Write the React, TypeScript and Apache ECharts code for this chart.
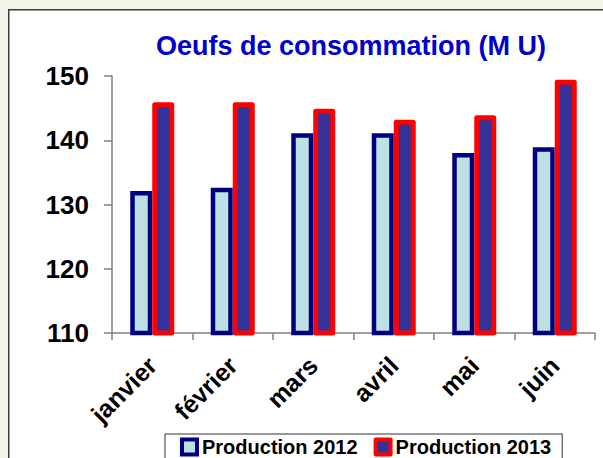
import React, { useEffect, useRef } from "react";
import * as echarts from "echarts";

const titleText = "Oeufs de consommation (M U)";
const categories = ["janvier", "février", "mars", "avril", "mai", "juin"];
const seriesNames = ["Production 2012", "Production 2013"];
const production2012 = [132.1, 132.6, 141.1, 141.1, 138.0, 138.9];
const production2013 = [145.9, 145.9, 144.9, 143.2, 143.9, 149.4];
const yMin = 110;
const yMax = 150;
const yInterval = 10;

export default function App() {
  const ref = useRef<HTMLDivElement>(null);

  useEffect(() => {
    if (!ref.current) return;
    const chart = echarts.init(ref.current, null, { renderer: "svg" });
    const font = "'Liberation Sans', Arial, sans-serif";
    const s2012 = { color: "#bde0e4", borderColor: "#000080", borderWidth: 4.5 };
    const s2013 = { color: "#333399", borderColor: "#ff0000", borderWidth: 5, borderJoin: "round" };
    chart.setOption({
      animation: false,
      backgroundColor: "#f3f3e6",
      graphic: [
        {
          type: "rect",
          z: -10,
          silent: true,
          shape: { x: 8.75, y: 9.75, width: 620, height: 480 },
          style: { fill: "#ffffff", stroke: "#3c3c3c", lineWidth: 1.5 },
        },
      ],
      title: {
        text: titleText,
        left: 346,
        textAlign: "center",
        top: 27,
        textStyle: { color: "#0000cc", fontSize: 27, fontWeight: "bold", fontFamily: font },
      },
      grid: { left: 112, right: 8, top: 76, bottom: 125 },
      legend: {
        left: 165,
        top: 434,
        padding: [3, 11, 14, 15],
        borderColor: "#333333",
        borderWidth: 1,
        itemWidth: 15,
        itemHeight: 15,
        itemGap: 16,
        icon: "rect",
        textStyle: {
          color: "#000000",
          fontSize: 20,
          lineHeight: 18,
          fontWeight: "bold",
          fontFamily: font,
        },
        data: [
          { name: seriesNames[0], itemStyle: { ...s2012, borderWidth: 4 } },
          { name: seriesNames[1], itemStyle: { ...s2013, borderWidth: 4 } },
        ],
      },
      xAxis: {
        type: "category",
        data: categories,
        axisLine: { lineStyle: { color: "#808080", width: 1.5 } },
        axisTick: { show: true, length: 7, lineStyle: { color: "#808080", width: 1.5 } },
        axisLabel: {
          rotate: 45,
          margin: 28,
          color: "#000000",
          fontSize: 25,
          fontWeight: "bold",
          fontFamily: font,
          interval: 0,
        },
      },
      yAxis: {
        type: "value",
        min: yMin,
        max: yMax,
        interval: yInterval,
        splitLine: { show: false },
        axisLine: { show: true, lineStyle: { color: "#808080", width: 1.5 } },
        axisTick: { show: true, length: 8, lineStyle: { color: "#808080", width: 1.5 } },
        axisLabel: {
          margin: 23,
          color: "#000000",
          fontSize: 26,
          fontWeight: "bold",
          fontFamily: font,
        },
      },
      series: [
        {
          name: seriesNames[0],
          type: "bar",
          data: production2012,
          barWidth: 22,
          barGap: "0%",
          itemStyle: s2012,
        },
        {
          name: seriesNames[1],
          type: "bar",
          data: production2013,
          barWidth: 22,
          barGap: "0%",
          itemStyle: s2013,
        },
      ],
    });
    return () => chart.dispose();
  }, []);

  return (
    <div style={{ position: "fixed", left: 0, top: 0, width: 603, height: 458 }}>
      <div ref={ref} style={{ width: 603, height: 458 }} />
    </div>
  );
}
